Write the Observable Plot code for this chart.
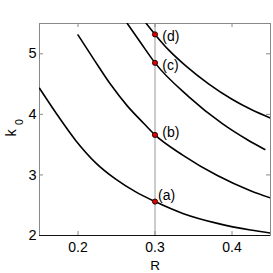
<!DOCTYPE html>
<html><head><meta charset="utf-8">
<script src="https://cdn.jsdelivr.net/npm/d3@7"></script>
<script src="https://cdn.jsdelivr.net/npm/@observablehq/plot@0.6"></script>
<style>
body{margin:0;background:#fff}
#chart svg{font-family:"Liberation Sans",Arial,sans-serif;background:#fff}
</style>
</head><body><div id="chart"></div>
<script>
// Curves k0(R)
const curveA_R = [0.15, 0.171, 0.197, 0.223, 0.249, 0.275, 0.30, 0.337, 0.381, 0.424, 0.45];
const curveA_k = [4.43, 4.03, 3.57, 3.20, 2.93, 2.72, 2.56, 2.36, 2.20, 2.09, 2.04];
const curveB_R = [0.20, 0.221, 0.242, 0.264, 0.2855, 0.30, 0.337, 0.381, 0.424, 0.45];
const curveB_k = [5.31, 4.90, 4.50, 4.14, 3.85, 3.66, 3.32, 2.99, 2.74, 2.62];
const curveC_R = [0.264, 0.281, 0.30, 0.344, 0.387, 0.42, 0.4426];
const curveC_k = [5.50, 5.19, 4.85, 4.29, 3.85, 3.58, 3.42];
const curveD_R = [0.2886, 0.30, 0.318, 0.34, 0.37, 0.40, 0.425, 0.45];
const curveD_k = [5.50, 5.32, 5.06, 4.80, 4.50, 4.25, 4.08, 3.94];

// Marked points and annotations
const markR = [0.3, 0.3, 0.3, 0.3];
const markK = [2.56, 3.66, 4.85, 5.32];
const labelText = ["(a)", "(b)", "(c)", "(d)"];
const labelR = [0.304, 0.3094, 0.3094, 0.3094];
const labelK = [2.66, 3.70, 4.80, 5.29];
const refLineR = [0.3];

const xTicks = [0.2, 0.3, 0.4];
const yTicks = [2, 3, 4, 5];

const curves = [
  ["a", curveA_R, curveA_k], ["b", curveB_R, curveB_k],
  ["c", curveC_R, curveC_k], ["d", curveD_R, curveD_k]
];
const lineData = curves.flatMap(([id, R, K]) => R.map((r, i) => ({id, R: r, k: K[i]})));
const marks = markR.map((r, i) => ({R: r, k: markK[i]}));
const labels = labelText.map((t, i) => ({t, R: labelR[i], k: labelK[i]}));

const W = 273, H = 273, mL = 39, mT = 23, mR = 3, mB = 38;
const fw = W - mL - mR, fh = H - mT - mB, tl = 4;
const tickCol = "#888";

const chart = Plot.plot({
  width: W, height: H,
  marginLeft: mL, marginTop: mT, marginRight: mR, marginBottom: mB,
  style: {fontSize: "14px", fontFamily: "'Liberation Sans', Arial, sans-serif", color: "#000", background: "#fff"},
  x: {domain: [0.15, 0.45], label: null},
  y: {domain: [2, 5.5], label: null},
  marks: [
    Plot.frame({stroke: tickCol}),
    Plot.ruleX(refLineR, {x: d => d, stroke: "#999", strokeWidth: 1}),
    Plot.axisX({ticks: xTicks, tickSize: 0, tickPadding: 7, fontSize: 14, tickFormat: d => d.toFixed(1), label: null}),
    Plot.axisY({ticks: yTicks, tickSize: 0, tickPadding: 3, fontSize: 14.5, tickFormat: d => String(d), label: null}),
    // inward ticks
    Plot.tickX(xTicks, {x: d => d, stroke: tickCol, insetTop: fh - tl}),
    Plot.tickX(xTicks, {x: d => d, stroke: tickCol, insetBottom: fh - tl}),
    Plot.tickY(yTicks, {y: d => d, stroke: tickCol, insetRight: fw - tl}),
    Plot.tickY(yTicks, {y: d => d, stroke: tickCol, insetLeft: fw - tl}),
    Plot.ruleY([2], {stroke: "#111"}),
    Plot.line(lineData, {x: "R", y: "k", z: "id", stroke: "#000", strokeWidth: 1.6, curve: "monotone-x", clip: true}),
    Plot.dot(marks, {x: "R", y: "k", r: 2.6, fill: "#e00000", stroke: "#000", strokeWidth: 0.8}),
    Plot.text(labels, {x: "R", y: "k", text: "t", textAnchor: "start", fontSize: 14, fill: "#000"}),
    Plot.text(["R"], {frameAnchor: "bottom", lineAnchor: "bottom", dy: 34, fontSize: 13.5, fill: "#000"}),
    Plot.text(["k"], {frameAnchor: "left", rotate: -90, dx: -28, dy: 7, fontSize: 14.5, fill: "#000"}),
    Plot.text(["0"], {frameAnchor: "left", rotate: -90, dx: -19.5, dy: -4.5, fontSize: 10.5, fill: "#000"})
  ]
});
document.getElementById("chart").appendChild(chart);
</script>
</body></html>
